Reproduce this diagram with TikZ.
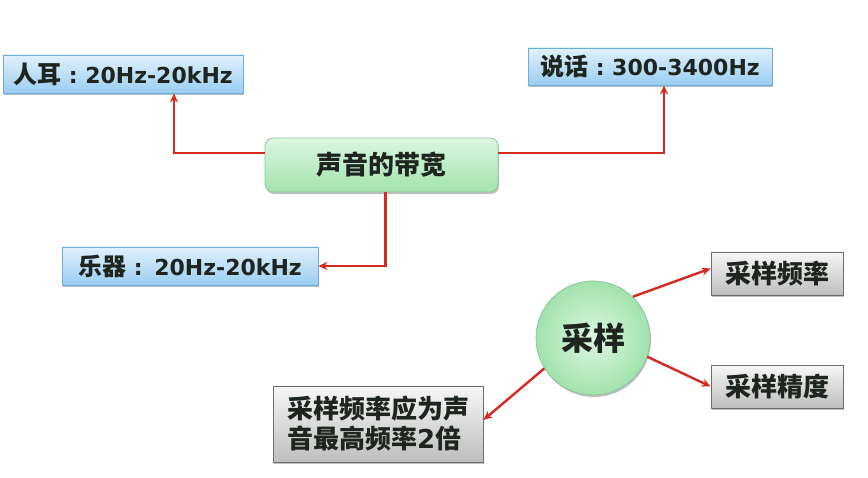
\documentclass[tikz,border=0pt]{standalone}
\usepackage{fontspec}
\newfontfamily\cjk{Noto Sans CJK SC}
\newfontfamily\lat{DejaVu Sans}
\usetikzlibrary{shadows,arrows.meta}
\definecolor{txt}{HTML}{1E241E}
\definecolor{redl}{HTML}{D42A20}
\definecolor{bluetop}{HTML}{E2F1FC}
\definecolor{bluebot}{HTML}{9ACDF2}
\definecolor{blueedge}{HTML}{6AAEE0}
\definecolor{greentop}{HTML}{DDF7E1}
\definecolor{greenbot}{HTML}{A2E2AE}
\definecolor{greenedge}{HTML}{8CC899}
\definecolor{graytop}{HTML}{F7F7F7}
\definecolor{graybot}{HTML}{BEBEBE}
\definecolor{grayedge}{HTML}{6E6E6E}
\tikzset{
  shd/.style={drop shadow={shadow xshift=1pt,shadow yshift=-2pt,opacity=0.25,fill=black}},
  bluebox/.style={draw=blueedge,line width=0.8pt,top color=bluetop,bottom color=bluebot,shd,
    inner sep=0pt,text=txt,font=\cjk\bfseries\fontsize{24}{28}\selectfont},
  greenbox/.style={draw=greenedge,line width=0.8pt,rounded corners=8pt,top color=greentop,bottom color=greenbot,shd,
    inner sep=0pt,text=txt,font=\cjk\bfseries\fontsize{26}{30}\selectfont},
  graybox/.style={draw=grayedge,line width=0.8pt,top color=graytop,bottom color=graybot,shd,
    inner sep=0pt,text=txt,font=\cjk\bfseries\fontsize{26}{30}\selectfont},
  circ/.style={circle,draw=greenedge,line width=0.8pt,inner color=greentop,outer color=greenbot,shd,
    inner sep=0pt,minimum size=114pt,text=txt,font=\cjk\bfseries\fontsize{32}{36}\selectfont},
  conn/.style={draw=redl,line width=2.4pt,-{Stealth[length=9pt,width=8pt]}},
}
\newcommand\lt[1]{{\lat\bfseries\fontsize{22}{26}\selectfont #1}}
\newcommand\colo{\makebox[24pt]{\lt{:}}}
\begin{document}
\begin{tikzpicture}[x=1pt,y=-1pt]
\useasboundingbox (0,0) rectangle (868,478);
\node[bluebox,minimum width=240pt,minimum height=38pt] (ear) at (123,74) {人耳\colo\lt{20Hz-20kHz}};
\node[bluebox,minimum width=244pt,minimum height=37pt] (talk) at (650,66.5) {说话\colo\lt{300-3400Hz}};
\node[greenbox,minimum width=233pt,minimum height=54pt] (bw) at (381.5,165) {声音的带宽};
\node[bluebox,minimum width=256pt,minimum height=38pt] (inst) at (190,266) {乐器\colo\,\lt{20Hz-20kHz}};
\node[circ] (samp) at (593,338) {采样};
\node[graybox,minimum width=132pt,minimum height=43pt] (freq) at (777,273.5) {采样频率};
\node[graybox,minimum width=132pt,minimum height=43pt] (prec) at (777,386.5) {采样精度};
\node[graybox,minimum width=210pt,minimum height=76pt,align=left] (rule) at (378,424) {采样频率应为声\\音最高频率\lt{\fontsize{26}{30}\selectfont 2}倍};
\draw[conn] ([yshift=12pt]bw.west) -| ([xshift=51pt]ear.south);
\draw[conn] ([yshift=12pt]bw.east) -| ([xshift=14pt]talk.south);
\draw[conn] ([xshift=4pt]bw.south) |- (inst.east);
\draw[conn] (samp.46) -- ([yshift=5pt]freq.west);
\draw[conn] (samp.-19) -- (prec.west);
\draw[conn] (samp.212) -- ([yshift=4pt]rule.east);
\end{tikzpicture}
\end{document}
